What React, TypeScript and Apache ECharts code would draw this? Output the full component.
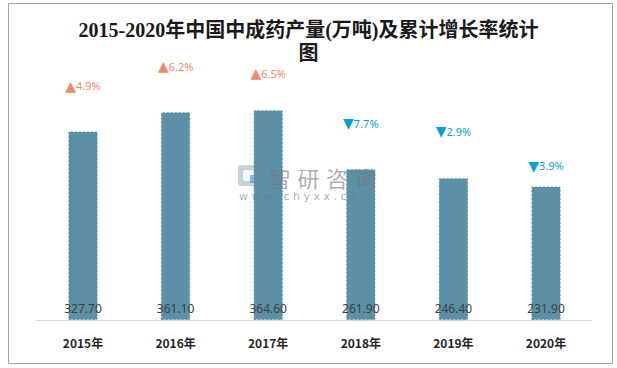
import React, { useEffect, useRef } from "react";
import * as echarts from "echarts";

const categories = ["2015年", "2016年", "2017年", "2018年", "2019年", "2020年"];
const output = [327.7, 361.1, 364.6, 261.9, 246.4, 231.9];
const growth = [4.9, 6.2, 6.5, -7.7, -2.9, -3.9];
const titleText = "2015-2020年中国中成药产量(万吨)及累计增长率统计\n图";
const watermarkChars = ["智", "研", "咨", "询"];
// label distances above bars (style)
const growthLabelDistance = [39, 39, 30, 39, 40, 14];

const UP = "#EE8A6C";
const DOWN = "#0A9FDB";

export default function App() {
  const ref = useRef<HTMLDivElement>(null);
  useEffect(() => {
    const chart = echarts.init(ref.current!, null, { renderer: "svg" });
    chart.setOption({
      animation: false,
      backgroundColor: "#fff",
      title: {
        text: titleText,
        left: "center",
        top: 13,
        textStyle: {
          fontFamily: '"Liberation Serif", "Noto Sans CJK SC", serif',
          fontSize: 20,
          fontWeight: "bold",
          color: "#1a1a1a",
          lineHeight: 23,
          align: "center",
        },
      },
      grid: { left: 36.7, right: 24.7, top: 90, bottom: 48 },
      xAxis: {
        type: "category",
        data: categories,
        axisLine: { lineStyle: { color: "#d9d9d9", width: 1 } },
        axisTick: { show: false },
        axisLabel: {
          color: "#262626",
          fontWeight: "bold",
          fontSize: 12,
          margin: 16,
          fontFamily: '"Noto Sans CJK SC", sans-serif',
        },
      },
      yAxis: {
        type: "value",
        min: 0,
        max: 400,
        show: false,
        splitLine: { show: false },
      },
      series: [
        {
          type: "bar",
          data: output,
          barWidth: 29,
          itemStyle: {
            color: "#5B90A7",
            borderColor: "#5287a0",
            borderWidth: 0.8,
            borderType: [2, 2],
          },
          label: {
            show: true,
            position: "insideBottom",
            distance: 6,
            color: "#404040",
            fontSize: 12,
            fontFamily: '"Noto Sans", sans-serif',
            formatter: (p: any) => p.value.toFixed(2),
          },
          z: 2,
        },
        {
          type: "bar",
          barWidth: 29,
          barGap: "-100%",
          data: output.map((v, i) => ({
            value: v,
            label: { distance: growthLabelDistance[i] },
          })),
          itemStyle: { color: "transparent" },
          silent: true,
          label: {
            show: true,
            position: "top",
            fontFamily: '"Noto Sans", sans-serif',
            formatter: (p: any) => {
              const g = growth[p.dataIndex];
              return g >= 0
                ? `{ua|▲}{u|${g.toFixed(1)}%}`
                : `{da|▼}{d|${Math.abs(g).toFixed(1)}%}`;
            },
            rich: {
              ua: { color: UP, fontSize: 14, fontFamily: '"DejaVu Sans", sans-serif' },
              u: { color: UP, fontSize: 11 },
              da: { color: DOWN, fontSize: 14, fontFamily: '"DejaVu Sans", sans-serif' },
              d: { color: DOWN, fontSize: 11 },
            },
          },
          z: 3,
        },
      ],
      graphic: [
        {
          type: "rect",
          shape: { x: 8.5, y: 3.5, width: 604, height: 360 },
          style: { fill: "none", stroke: "#a6a6a6", lineWidth: 1 },
          silent: true,
        },
        {
          type: "group",
          left: 238,
          top: 165,
          z: 100,
          silent: true,
          children: [
            { type: "rect", shape: { x: 0, y: 0, width: 23, height: 21, r: 3 }, style: { fill: "rgba(150,175,200,0.55)" } },
            { type: "rect", shape: { x: 5, y: 5, width: 13, height: 11, r: 2 }, style: { fill: "rgba(255,255,255,0.85)" } },
            { type: "rect", shape: { x: 12, y: 10, width: 8, height: 8 }, style: { fill: "rgba(70,140,200,0.6)" } },
          ],
        },
        ...watermarkChars.map((c, i) => ({
          type: "text",
          left: 269 + i * 28.5,
          top: 166,
          z: 100,
          silent: true,
          style: {
            text: c,
            fontSize: 22,
            fontFamily: '"Noto Sans CJK SC", sans-serif',
            fill: "rgba(120,120,120,0.6)",
          },
        })),
        {
          type: "text",
          left: 239,
          top: 191,
          z: 100,
          silent: true,
          style: {
            text: "w w w . c h y x x . c o m",
            fontSize: 11,
            fontFamily: '"DejaVu Sans", sans-serif',
            fill: "rgba(120,120,120,0.6)",
          },
        },
      ],
    });
    return () => chart.dispose();
  }, []);
  return (
    <div
      ref={ref}
      style={{ position: "absolute", left: 0, top: 0, width: 617, height: 368 }}
    />
  );
}
